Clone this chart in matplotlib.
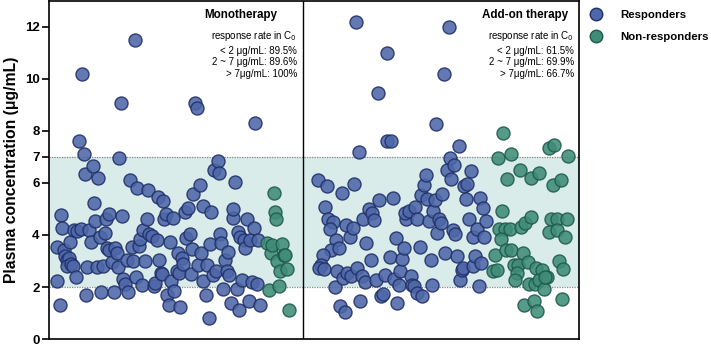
import numpy as np
import matplotlib.pyplot as plt
from matplotlib.lines import Line2D

plt.rcParams['font.family'] = ['Liberation Sans', 'DejaVu Sans']

# monotherapy group (x = jitter position, y = C0 in ug/mL)
mono_resp_x = [7.3, 10.7, 8.0, 11.3, 12.7, 14.7, 16.0, 17.3, 19.3, 17.3, 20.7, 21.3, 23.3, 24.7, 26.7, 28.0,
               29.3, 31.7, 32.7, 34.3, 36.0, 36.7, 38.0, 40.0, 41.3, 43.3, 44.7, 46.0, 47.3, 48.7, 50.7, 52.0,
               54.0, 55.3, 56.7, 59.3, 58.0, 60.0, 62.7, 64.7, 66.0, 67.3, 68.7, 70.0, 72.0, 72.7, 74.0, 76.0,
               77.3, 78.7, 80.7, 82.7, 83.3, 85.3, 86.7, 87.3, 89.3, 90.7, 92.7, 94.0, 96.0, 97.3, 98.7, 100.0,
               102.7, 104.7, 106.0, 107.3, 108.7, 110.0, 111.3, 112.7, 113.3, 114.7, 116.3, 117.3, 119.3, 120.7,
               122.0, 124.0, 124.7, 127.3, 128.7, 130.0, 130.7, 132.7, 134.0, 135.3, 136.7, 138.7, 140.7, 141.3,
               142.7, 144.0, 146.0, 147.3, 148.7, 150.7, 152.0, 153.3, 154.0, 156.7, 158.0, 159.7, 160.7, 162.0,
               164.0, 164.7, 166.7, 168.7, 169.3, 170.7, 172.0, 174.0, 176.0, 177.3, 178.7, 180.0, 181.3, 184.0,
               184.0, 185.3, 187.3, 188.7, 190.7, 190.0, 192.7, 194.7, 195.3, 197.3, 199.3, 200.7, 202.7, 204.7,
               206.0, 207.3, 208.7, 210.7]
mono_resp_y = [2.22, 1.29, 3.53, 4.76, 4.28, 3.44, 3.18, 3.03, 3.12, 2.80, 3.74, 2.89, 2.80, 4.21, 2.37, 4.15,
               7.63, 4.24, 10.19, 7.11, 6.34, 1.68, 2.77, 4.18, 3.72, 6.66, 5.22, 4.55, 2.77, 6.21, 3.92, 1.80,
               2.80, 4.08, 4.63, 4.82, 3.51, 3.41, 2.96, 1.80, 3.51, 3.29, 2.76, 6.98, 9.07, 4.73, 2.31, 2.13,
               3.03, 1.80, 6.11, 3.53, 2.99, 11.49, 2.38, 5.79, 3.57, 3.83, 2.09, 4.21, 2.99, 4.63, 5.73, 4.02,
               3.96, 2.05, 2.15, 3.80, 5.46, 3.05, 2.54, 2.51, 5.32, 4.60, 4.79, 1.70, 1.31, 3.74, 2.24, 4.64,
               1.83, 2.60, 3.31, 2.54, 1.25, 3.12, 2.89, 4.90, 3.87, 5.05, 4.02, 2.51, 3.48, 5.59, 9.07, 8.89,
               2.84, 5.92, 3.31, 5.12, 2.24, 1.70, 2.86, 0.82, 3.67, 4.90, 2.47, 6.51, 2.60, 6.84, 6.38, 4.05,
               3.70, 1.92, 3.05, 2.60, 3.34, 2.47, 1.38, 4.64, 4.99, 6.04, 1.92, 4.12, 3.93, 1.10, 2.28, 3.80,
               3.51, 4.60, 1.48, 3.80, 2.18, 4.28, 8.31, 2.13, 3.80, 1.29]
mono_non_x = [217.3, 219.3, 221.3, 222.7, 224.7, 225.3, 226.7, 227.3, 230.0, 230.7, 232.7, 234.7, 236.0, 237.3, 239.3]
mono_non_y = [3.70, 1.89, 3.31, 3.63, 5.63, 4.90, 4.60, 2.99, 2.05, 2.60, 3.67, 3.25, 3.25, 2.69, 1.10]

# add-on therapy group
add_resp_x = [269.0, 278.0, 276.0, 278.7, 283.4, 280.7, 286.7, 282.0, 289.4, 273.4, 271.4, 270.0, 274.7, 285.4,
              288.0, 293.4, 290.7, 296.0, 292.7, 296.7, 300.7, 303.4, 298.0, 301.4, 307.4, 304.7, 306.7, 309.4,
              312.7, 310.7, 313.4, 316.7, 316.0, 319.4, 321.4, 322.7, 324.7, 326.7, 330.0, 332.0, 334.0, 328.7,
              337.4, 338.0, 342.0, 336.0, 340.7, 343.4, 346.7, 344.7, 348.0, 349.4, 350.7, 352.7, 354.7, 356.7,
              355.4, 359.4, 361.4, 362.7, 366.0, 367.4, 364.7, 368.0, 370.7, 371.4, 372.7, 374.7, 376.7, 378.0,
              379.4, 381.4, 382.7, 384.0, 386.0, 386.7, 388.0, 389.4, 392.0, 392.7, 394.7, 395.4, 397.4, 399.4,
              400.7, 402.0, 404.7, 403.4, 405.4, 408.0, 410.0, 410.7, 412.7, 414.0, 414.7, 416.7, 418.0, 420.0,
              421.4, 423.4, 424.0, 426.0, 427.4, 429.4, 430.7, 432.0, 433.4, 434.7, 436.7]
add_resp_y = [6.12, 5.89, 5.09, 4.63, 4.50, 4.24, 3.80, 3.44, 3.51, 3.23, 2.86, 2.73, 2.69, 2.00, 2.60, 2.33,
              1.28, 1.03, 5.63, 4.37, 3.93, 4.28, 2.54, 2.44, 2.73, 5.98, 12.20, 7.20, 2.44, 1.47, 4.63, 3.70,
              2.18, 5.01, 3.02, 4.86, 4.57, 2.28, 5.35, 1.66, 1.73, 9.47, 11.01, 7.63, 7.63, 2.46, 3.15, 5.43,
              3.88, 2.31, 1.40, 2.09, 2.60, 3.08, 3.49, 4.60, 4.86, 4.91, 2.44, 2.09, 5.09, 4.60, 2.05, 1.77,
              3.54, 5.55, 1.66, 5.92, 6.30, 5.40, 4.54, 3.05, 2.09, 4.92, 5.34, 8.26, 4.08, 4.63, 4.45, 5.59,
              10.19, 3.29, 6.51, 12.01, 6.98, 6.17, 6.69, 4.21, 4.02, 3.21, 7.44, 2.28, 2.67, 2.73, 5.89, 5.38,
              5.98, 4.63, 6.47, 3.93, 2.82, 3.21, 4.24, 2.05, 5.43, 2.93, 5.05, 3.92, 4.54]
add_non_x = [453.4, 448.7, 461.4, 470.7, 457.4, 482.0, 490.0, 499.4, 504.7, 518.7, 503.4, 511.4, 452.7, 450.0,
             456.0, 460.7, 451.4, 471.4, 476.0, 481.4, 501.4, 508.0, 517.4, 500.0, 507.4, 515.4, 445.4, 456.7,
             462.0, 473.4, 444.0, 447.4, 464.7, 468.7, 478.7, 467.4, 486.7, 492.7, 466.0, 479.4, 485.4, 490.0,
             494.7, 497.4, 495.4, 509.4, 514.0, 474.7, 484.7, 488.0, 512.7]
add_non_y = [7.93, 6.95, 7.11, 6.51, 6.15, 6.20, 6.38, 7.36, 7.47, 7.05, 5.94, 6.12, 4.91, 4.24, 4.24, 4.24,
             3.85, 4.32, 4.45, 4.70, 4.63, 4.63, 4.63, 4.11, 4.21, 3.93, 3.25, 3.41, 3.41, 3.29, 2.60, 2.64,
             2.86, 2.86, 2.95, 2.54, 2.73, 2.64, 2.26, 2.13, 2.13, 2.26, 1.92, 2.38, 2.38, 2.99, 2.69, 1.31,
             1.47, 1.06, 1.55]

yticks = [0, 2, 4, 6, 7, 8, 10, 12]
panel_titles = ['Monotherapy', 'Add-on therapy']
rate_lines = [['< 2 μg/mL: 89.5%', '2 ~ 7 μg/mL: 89.6%', '> 7μg/mL: 100%'],
              ['< 2 μg/mL: 61.5%', '2 ~ 7 μg/mL: 69.9%', '> 7μg/mL: 66.7%']]

blue, blue_edge = '#4e67a8', '#1f2e68'
green, green_edge = '#3f8c78', '#1d5a48'

fig = plt.figure(figsize=(7.11, 3.46), dpi=100)
ax = fig.add_axes([0.0694, 0.0202, 0.7454, 0.977])

# therapeutic window 2-7 ug/mL
ax.axhspan(2, 7, color='#d9ecea', zorder=0, lw=0)
for lvl in (2, 7):
    ax.axhline(lvl, color='#888888', lw=0.9, ls=(0, (1, 1)), zorder=1)

divider = 253.7
ax.axvline(divider, color='black', lw=1.0, zorder=1)

kw = dict(s=88, linewidths=1.0, alpha=0.88, zorder=3)
ax.scatter(mono_resp_x, mono_resp_y, c=blue, edgecolors=blue_edge, **kw)
ax.scatter(mono_non_x, mono_non_y, c=green, edgecolors=green_edge, **kw)
ax.scatter(add_resp_x, add_resp_y, c=blue, edgecolors=blue_edge, **kw)
ax.scatter(add_non_x, add_non_y, c=green, edgecolors=green_edge, **kw)

ax.set_xlim(0, 530)
ax.set_ylim(0, 13)
ax.set_xticks([])
ax.set_yticks(yticks)
ax.set_yticklabels([str(t) for t in yticks], fontweight='bold', fontsize=9.5)
ax.tick_params(axis='y', length=5, width=1.2, pad=2)
for sp in ax.spines.values():
    sp.set_linewidth(1.2)
ax.set_ylabel('Plasma concentration (μg/mL)', fontsize=11.3, fontweight='bold', labelpad=4)

# panel annotations
title_right = [227.7, 518.7]
text_right = [247.7, 524.7]
for i in range(2):
    ax.text(title_right[i], 12.46, panel_titles[i], ha='right', va='center', fontsize=8.4, fontweight='bold')
    ax.text(text_right[i], 11.65, 'response rate in C$_0$', ha='right', va='center', fontsize=7.0)
    for j, line in enumerate(rate_lines[i]):
        ax.text(text_right[i], 11.08 - j * 0.445, line, ha='right', va='center', fontsize=7.0)

handles = [Line2D([], [], ls='', marker='o', ms=9.0, mfc=blue, mec=blue_edge, mew=1.0),
           Line2D([], [], ls='', marker='o', ms=9.0, mfc=green, mec=green_edge, mew=1.0)]
ax.legend(handles, ['Responders', 'Non-responders'], loc='upper left', bbox_to_anchor=(1.0155, 0.972),
          frameon=False, prop={'weight': 'bold', 'size': 8.2}, handletextpad=1.36, labelspacing=0.98,
          borderaxespad=0, borderpad=0, handlelength=1.5)

fig.savefig('out.png', dpi=100)
